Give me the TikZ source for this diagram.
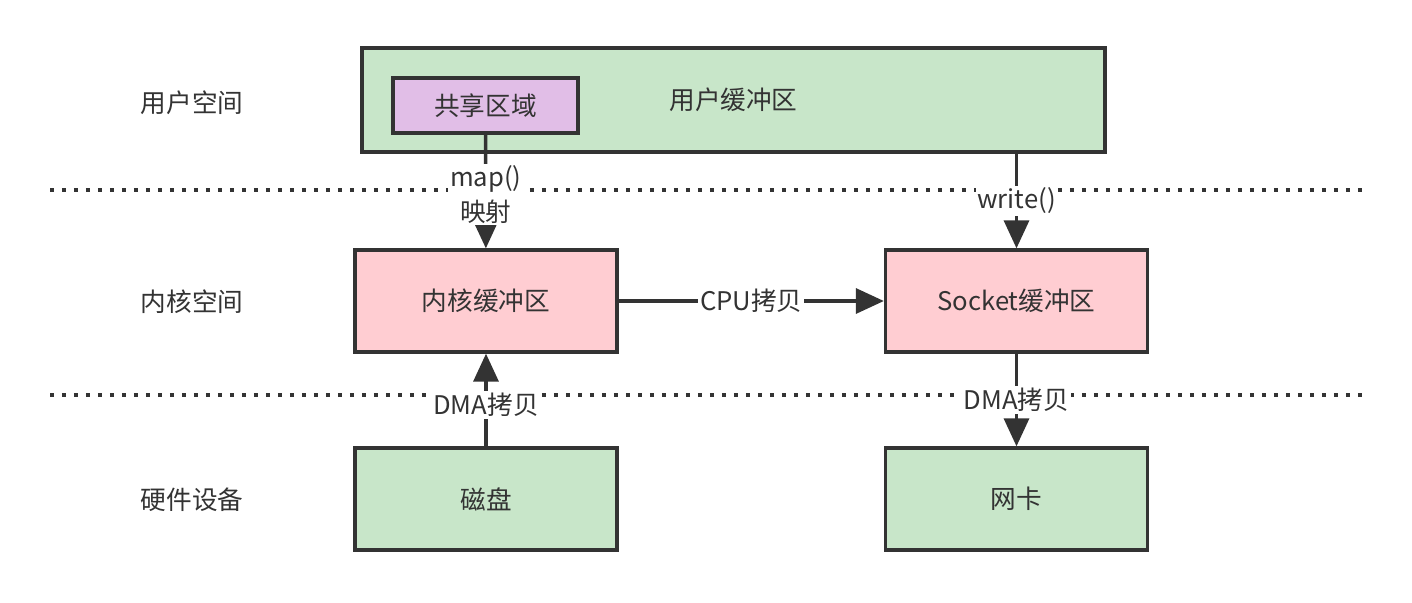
\documentclass[tikz,border=0pt]{standalone}
\usepackage{fontspec}
\setmainfont{Noto Sans CJK SC}
\usepackage{xcolor}
\usetikzlibrary{positioning,arrows.meta}

\definecolor{linegray}{HTML}{333333}
\definecolor{boxgreen}{HTML}{C8E6C9}
\definecolor{boxpink}{HTML}{FFCDD2}
\definecolor{boxpurple}{HTML}{E1BEE7}

\begin{document}
\begin{tikzpicture}[
  x=0.02cm, y=-0.02cm,
  font=\fontsize{14.6}{17}\selectfont,
  box/.style={draw=linegray, line width=1.9pt, minimum width=5.24cm,
              minimum height=2.04cm, align=center, text=linegray},
  arr/.style={-{Triangle[length=0.56cm, width=0.5cm]}, draw=linegray, line width=1.9pt},
  lbl/.style={fill=white, inner sep=1pt, text=linegray, align=center},
  sep/.style={draw=linegray, line width=1.9pt, dash pattern=on 0.08cm off 0.16cm}
]
\useasboundingbox (0,0) rectangle (1412,602);

% layer separators
\draw[sep] (50,190) -- (1362,190);
\draw[sep] (50,395) -- (1362,395);

% layer names
\node[text=linegray] (luser) at (192,103) {用户空间};
\node[text=linegray] (lkern) at (192,302) {内核空间};
\node[text=linegray] (lhw) at (192,500) {硬件设备};

\node[box, fill=boxgreen, minimum width=14.86cm, minimum height=2.08cm] (ubuf) at (733.5,100) {用户缓冲区};
\node[box, fill=boxpurple, minimum width=3.7cm, minimum height=1.1cm] (share) at (485.5,105.5) {共享区域};
\node[box, fill=boxpink] (kbuf) at (486,301) {内核缓冲区};
\node[box, fill=boxpink] (sbuf) at (1016.5,301) {Socket缓冲区};
\node[box, fill=boxgreen] (disk) at (486,499) {磁盘};
\node[box, fill=boxgreen] (nic) at (1016.5,499) {网卡};

\draw[arr] (share) -- node[lbl, yshift=-0.06cm] {map()\\[3pt]映射} (kbuf);
\draw[arr] (sbuf.north |- ubuf.south) -- node[lbl] {write()} (sbuf);
\draw[arr] (kbuf) -- node[lbl] {CPU拷贝} (sbuf);
\draw[arr] (disk) -- node[lbl, yshift=-0.1cm] {DMA拷贝} (kbuf);
\draw[arr] (sbuf) -- node[lbl] {DMA拷贝} (nic);
\end{tikzpicture}
\end{document}
